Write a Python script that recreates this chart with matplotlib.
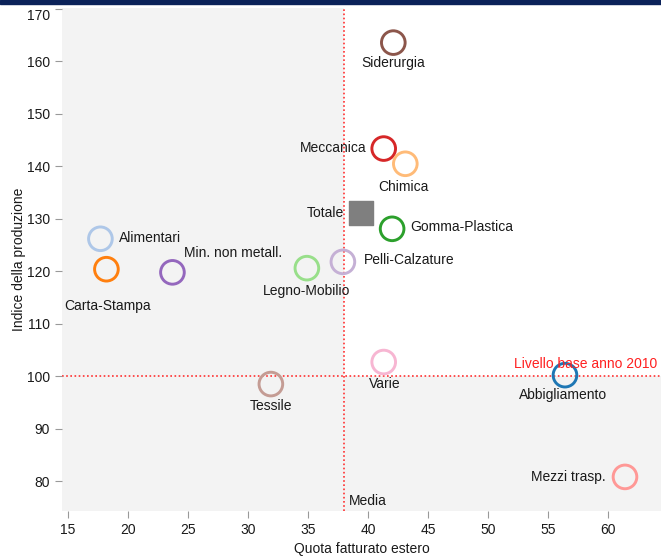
import matplotlib
matplotlib.use('Agg')
import matplotlib.pyplot as plt
from matplotlib.patches import Rectangle

plt.rcParams['font.family'] = ['Liberation Sans', 'DejaVu Sans']

# sectors: export share (x) vs production index (y)
sectors = ['Siderurgia', 'Meccanica', 'Chimica', 'Gomma-Plastica', 'Alimentari',
           'Carta-Stampa', 'Min. non metall.', 'Legno-Mobilio', 'Pelli-Calzature',
           'Varie', 'Tessile', 'Abbigliamento', 'Mezzi trasp.']
quota_estero = [42.1, 41.3, 43.1, 42.0, 17.7, 18.2, 23.7, 34.9, 37.9, 41.3, 31.9, 56.4, 61.4]
indice_prod = [163.6, 143.4, 140.5, 128.1, 126.2, 120.4, 119.8, 120.6, 121.8, 102.7, 98.5, 100.2, 80.8]
colori = ['#8c564b', '#d62728', '#ffbb78', '#2ca02c', '#aec7e8', '#ff7f0e', '#9467bd',
          '#98df8a', '#c5b0d5', '#f7b6d2', '#c49c94', '#1f77b4', '#ff9896']
# label offsets in pixels and alignment
offsets = [(0, -20, 'center'), (-17, 1, 'right'), (-2, -23, 'center'), (18, 2, 'left'),
           (19, 1, 'left'), (1, -37, 'center'), (12, 19, 'left'), (0, -23, 'center'),
           (21, 2, 'left'), (1, -22, 'center'), (0, -22, 'center'), (-2, -20, 'center'),
           (-19, 0, 'right')]

totale_x, totale_y = 39.4, 131.2
media = 38.0
base = 100

x_ticks = [15, 20, 25, 30, 35, 40, 45, 50, 55, 60]
y_ticks = [80, 90, 100, 110, 120, 130, 140, 150, 160, 170]
xmin, xmax = 14.5, 64.4
ymin, ymax = 74.3, 170.2

fs = 10
fig = plt.figure(figsize=(6.61, 5.56), dpi=100)
ax = fig.add_axes([62 / 661, (556 - 511) / 556, 599 / 661, 503 / 556])
ax.set_xlim(xmin, xmax)
ax.set_ylim(ymin, ymax)

# shaded quadrants (all except top-right)
grigio = '#f3f3f3'
ax.add_patch(Rectangle((xmin, base), media - xmin, ymax - base, color=grigio, zorder=0, lw=0))
ax.add_patch(Rectangle((xmin, ymin), xmax - xmin, base - ymin, color=grigio, zorder=0, lw=0))

ax.axvline(media, color='#ff3030', ls=(0, (1, 1.5)), lw=1.2, zorder=1)
ax.axhline(base, color='#ff3030', ls=(0, (1, 1.5)), lw=1.2, zorder=1)

ax.scatter(quota_estero, indice_prod, s=290, facecolors='none', edgecolors=colori,
           linewidths=2.1, zorder=3)
ax.scatter([totale_x], [totale_y], s=300, marker='s', color='#7f7f7f', zorder=3)

txt = '#1a1a1a'
for name, x, y, (dx, dy, ha) in zip(sectors, quota_estero, indice_prod, offsets):
    ax.annotate(name, (x, y), xytext=(dx, dy), textcoords='offset pixels',
                ha=ha, va='center', fontsize=fs, color=txt, zorder=4)
ax.annotate('Totale', (totale_x, totale_y), xytext=(-17, 0), textcoords='offset pixels',
            ha='right', va='center', fontsize=fs, color=txt)

ax.text(xmax - 0.3, base + 0.9, 'Livello base anno 2010', color='#ff2020', fontsize=fs,
        ha='right', va='bottom')
ax.text(media + 0.4, 76.3, 'Media', color=txt, fontsize=fs, ha='left', va='center')

ax.set_xticks(x_ticks)
ax.set_yticks(y_ticks)
ax.tick_params(colors='#999999', labelcolor=txt, labelsize=fs, length=5, width=0.8)
for lab in ax.get_yticklabels():
    if lab.get_text() == '170':
        lab.set_verticalalignment('top')
for s in ax.spines.values():
    s.set_visible(False)

ax.set_xlabel('Quota fatturato estero', fontsize=fs, color=txt, labelpad=4)
ax.set_ylabel('Indice della produzione', fontsize=fs, color=txt, labelpad=1)

# header strip
fig.patches.append(Rectangle((0, 1 - 4 / 556), 1, 4 / 556, transform=fig.transFigure,
                             color='#0b2259', zorder=5))

fig.savefig('out.png', dpi=100)
